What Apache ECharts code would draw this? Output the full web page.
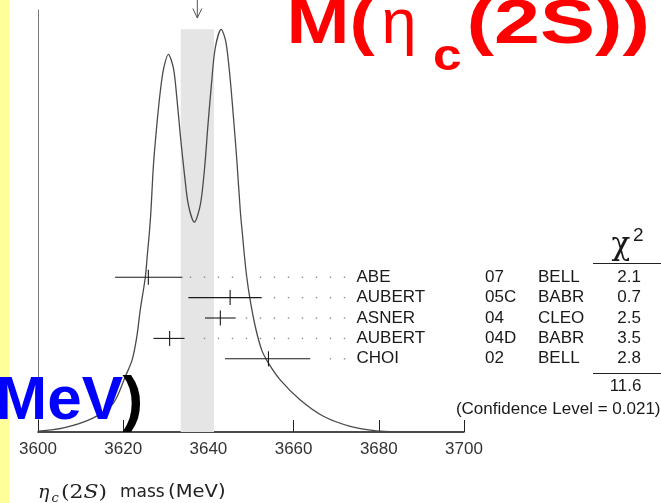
<!DOCTYPE html>
<html>
<head>
<meta charset="utf-8">
<script src="https://cdn.jsdelivr.net/npm/echarts@6/dist/echarts.min.js"></script>
<style>
  html, body { margin: 0; padding: 0; background: #fff; }
  #chart { width: 661px; height: 503px; }
</style>
</head>
<body>
<div id="chart"></div>
<script>
// eta_c(2S) mass measurements, weighted average and ideogram
const MASS_TICKS = [3600, 3620, 3640, 3660, 3680, 3700];

const AUTHORS = ['ABE', 'AUBERT', 'ASNER', 'AUBERT', 'CHOI'];
const REFS = ['07', '05C', '04', '04D', '02'];
const EXPERIMENTS = ['BELL', 'BABR', 'CLEO', 'BABR', 'BELL'];
const MASS = [3625.9, 3645.1, 3642.8, 3630.9, 3654.1];
const ERR_MINUS = [7.8, 9.8, 3.6, 3.8, 10.2];
const ERR_PLUS = [8.0, 7.4, 3.6, 3.5, 9.8];
const CHI2 = [2.1, 0.7, 2.5, 3.5, 2.8];
const CHI2_TOTAL = 11.6;
const CONFIDENCE_LEVEL = '0.021';

const AVG_MASS = 3637.4;
const AVG_ERR = 3.9;

// ideogram (relative units, highest peak = 1)
const IDEOGRAM_MASS = [
  3600.0, 3606.0, 3613.0, 3617.7, 3620.5, 3622.1, 3623.2, 3624.0, 3625.2, 3625.7,
  3626.1, 3626.5, 3627.1, 3627.9, 3628.7, 3629.5, 3630.6, 3631.8, 3632.6, 3633.4,
  3634.4, 3635.3, 3636.7, 3638.1, 3639.1, 3639.9, 3640.7, 3641.6, 3643.0, 3644.1,
  3645.1, 3645.9, 3646.7, 3647.5, 3648.0, 3648.4, 3649.0, 3649.8, 3651.0, 3652.5,
  3654.1, 3656.8, 3661.5, 3667.0, 3673.3, 3679.5, 3685.0, 3700.0
];
const IDEOGRAM_DENSITY = [
  0.002, 0.010, 0.035, 0.072, 0.138, 0.179, 0.237, 0.303, 0.385, 0.444,
  0.490, 0.547, 0.663, 0.763, 0.845, 0.903, 0.938, 0.903, 0.829, 0.738,
  0.638, 0.564, 0.521, 0.564, 0.655, 0.763, 0.862, 0.953, 1.000, 0.969,
  0.878, 0.779, 0.671, 0.547, 0.490, 0.444, 0.385, 0.328, 0.262, 0.204,
  0.171, 0.130, 0.080, 0.039, 0.014, 0.003, 0.001, 0.000
];

const SANS = '"Liberation Sans", Arial, Helvetica, sans-serif';
const INK = '#1a1a1a';
const TEXT_FONT = '17px ' + SANS;

// table column layout (pixels)
const NAME_X = 356.5;
const REF_X = 485;
const EXP_X = 538;
const CHI_RIGHT = 641;
const DOT_START = 190.5;
const DOT_STEP = 14;
const DOT_END = 346;

const peak = Math.max.apply(null, IDEOGRAM_DENSITY);
const yMax = 1.048;

function txt(x, y, text, font, fill, align, valign, extra) {
  return Object.assign({
    type: 'text', x: x, y: y, z: 10,
    style: {
      text: text, x: 0, y: 0, font: font, fill: fill,
      textAlign: align, align: align,
      textVerticalAlign: valign, verticalAlign: valign
    }
  }, extra || {});
}

const chart = echarts.init(document.getElementById('chart'), null, { renderer: 'canvas' });

chart.setOption({
  animation: false,
  backgroundColor: '#ffffff',
  grid: [
    { left: 38, right: 197, top: 10, bottom: 71 },
    { left: 38, right: 197, top: 267, height: 102 }
  ],
  xAxis: [
    {
      gridIndex: 0, type: 'value',
      min: MASS_TICKS[0], max: MASS_TICKS[MASS_TICKS.length - 1], interval: 20,
      axisLine: { onZero: false, lineStyle: { color: '#111', width: 1.5 } },
      axisTick: { inside: true, length: 12, lineStyle: { color: '#222', width: 1 } },
      axisLabel: {
        fontSize: 17, color: '#333', margin: 9, fontFamily: SANS,
        formatter: function (v) { return MASS_TICKS.indexOf(v) >= 0 ? String(v) : ''; }
      },
      splitLine: { show: false }
    },
    {
      gridIndex: 1, type: 'value', show: false,
      min: MASS_TICKS[0], max: MASS_TICKS[MASS_TICKS.length - 1]
    }
  ],
  yAxis: [
    {
      gridIndex: 0, type: 'value', min: 0, max: yMax,
      axisLine: { show: true, lineStyle: { color: '#777', width: 1 } },
      axisTick: { show: false }, axisLabel: { show: false }, splitLine: { show: false }
    },
    {
      gridIndex: 1, type: 'category', show: false, inverse: true,
      data: AUTHORS.map(function (a, i) { return i; })
    }
  ],
  series: [
    {
      // weighted average band and arrow
      type: 'custom', xAxisIndex: 0, yAxisIndex: 0, z: 1, silent: true,
      data: [[AVG_MASS - AVG_ERR, AVG_MASS + AVG_ERR, peak, AVG_MASS]],
      encode: { x: [0, 1, 3], y: 2 },
      renderItem: function (params, api) {
        const lo = api.coord([api.value(0), 0]);
        const hi = api.coord([api.value(1), api.value(2)]);
        const ax = api.coord([api.value(3), 0])[0];
        const top = params.coordSys.y;
        return {
          type: 'group',
          children: [
            {
              type: 'rect',
              shape: { x: lo[0], y: hi[1], width: hi[0] - lo[0], height: lo[1] - hi[1] },
              style: { fill: '#e5e5e5' }
            },
            {
              type: 'polyline',
              shape: { points: [[ax, top - 10], [ax, top + 8]] },
              style: { stroke: '#555', lineWidth: 1, fill: null }
            },
            {
              type: 'polyline',
              shape: { points: [[ax - 4.5, top - 1.5], [ax, top + 8], [ax + 4.5, top - 1.5]] },
              style: { stroke: '#555', lineWidth: 1, fill: null }
            }
          ]
        };
      }
    },
    {
      // ideogram curve
      type: 'line', xAxisIndex: 0, yAxisIndex: 0, z: 3, silent: true,
      data: IDEOGRAM_MASS.map(function (m, i) { return [m, IDEOGRAM_DENSITY[i]]; }),
      showSymbol: false, smooth: 0.3,
      lineStyle: { color: '#4a4a4a', width: 1.3 }
    },
    {
      // measurements with error bars, leaders and table rows
      type: 'custom', xAxisIndex: 1, yAxisIndex: 1, z: 4, silent: true,
      data: MASS.map(function (m, i) { return [m, i, m - ERR_MINUS[i], m + ERR_PLUS[i]]; }),
      encode: { x: [0, 2, 3], y: 1 },
      renderItem: function (params, api) {
        const i = params.dataIndex;
        const c = api.coord([api.value(0), api.value(1)]);
        const l = api.coord([api.value(2), api.value(1)]);
        const r = api.coord([api.value(3), api.value(1)]);
        const y = c[1];
        const children = [
          {
            type: 'line',
            shape: { x1: l[0], y1: y, x2: r[0], y2: y },
            style: { stroke: INK, lineWidth: 1.1 }
          },
          {
            type: 'line',
            shape: { x1: c[0], y1: y - 7.5, x2: c[0], y2: y + 7.5 },
            style: { stroke: INK, lineWidth: 1.1 }
          }
        ];
        for (let x = DOT_START; x <= DOT_END; x += DOT_STEP) {
          if (x >= r[0] + 7) {
            children.push({
              type: 'rect',
              shape: { x: x - 0.7, y: y - 0.7, width: 1.4, height: 1.4 },
              style: { fill: '#8c8c8c' }
            });
          }
        }
        children.push(txt(NAME_X, y, AUTHORS[i], TEXT_FONT, INK, 'left', 'middle'));
        children.push(txt(REF_X, y, REFS[i], TEXT_FONT, INK, 'left', 'middle'));
        children.push(txt(EXP_X, y, EXPERIMENTS[i], TEXT_FONT, INK, 'left', 'middle'));
        children.push(txt(CHI_RIGHT, y, CHI2[i].toFixed(1), TEXT_FONT, INK, 'right', 'middle'));
        return { type: 'group', children: children };
      }
    }
  ],
  graphic: [
    // left margin strip
    { type: 'rect', z: 20, shape: { x: 0, y: 0, width: 9, height: 503 }, style: { fill: '#ffff99' } },

    // chi-square column header and rules
    txt(611.5, 246, 'χ', '31px "DejaVu Serif", serif', INK, 'left', 'middle'),
    txt(633, 236, '2', '19px ' + SANS, INK, 'left', 'middle'),
    { type: 'line', z: 10, shape: { x1: 593, y1: 263.5, x2: 661, y2: 263.5 }, style: { stroke: '#222', lineWidth: 1 } },
    { type: 'line', z: 10, shape: { x1: 593, y1: 373.5, x2: 661, y2: 373.5 }, style: { stroke: '#222', lineWidth: 1 } },
    txt(641.5, 386.5, CHI2_TOTAL.toFixed(1), TEXT_FONT, INK, 'right', 'middle'),
    txt(660.5, 409, '(Confidence Level = ' + CONFIDENCE_LEVEL + ')', TEXT_FONT, INK, 'right', 'middle'),

    // x axis title
    txt(38, 493, 'η', 'italic 19px "DejaVu Serif", serif', '#222', 'left', 'middle'),
    txt(51.5, 499, 'c', 'italic 13px "DejaVu Serif", serif', '#222', 'left', 'middle'),
    {
      type: 'text', x: 61, y: 493, z: 10, scaleX: 1.22,
      style: {
        text: '{n|(2}{i|S}{n|)}', fill: '#222', textVerticalAlign: 'middle', verticalAlign: 'middle',
        rich: {
          n: { fontFamily: 'DejaVu Serif', fontSize: 18, fill: '#222' },
          i: { fontFamily: 'DejaVu Serif', fontStyle: 'italic', fontSize: 18, fill: '#222' }
        }
      }
    },
    txt(120, 493, 'mass', '17px "DejaVu Sans", sans-serif', '#222', 'left', 'middle'),
    txt(168, 493, '(MeV)', '17px "DejaVu Sans", sans-serif', '#222', 'left', 'middle', { scaleX: 1.15 }),

    // large overlay headings
    txt(286.5, 26, 'M(', 'bold 63px ' + SANS, '#ff0000', 'left', 'middle', { z: 30, scaleX: 1.2 }),
    txt(381.5, 26, 'η', '63px ' + SANS, '#ff0000', 'left', 'middle', { z: 30 }),
    txt(433, 58, 'c', 'bold 44px ' + SANS, '#ff0000', 'left', 'middle', { z: 30, scaleX: 1.17 }),
    txt(466.5, 26, '(2S))', 'bold 63px ' + SANS, '#ff0000', 'left', 'middle', { z: 30, scaleX: 1.31 }),
    txt(123, 402, 'MeV', 'bold 62px ' + SANS, '#0000ff', 'right', 'middle', { z: 30 }),
    txt(122.5, 402, ')', 'bold 62px ' + SANS, '#000000', 'left', 'middle', { z: 30 })
  ]
});
</script>
</body>
</html>
